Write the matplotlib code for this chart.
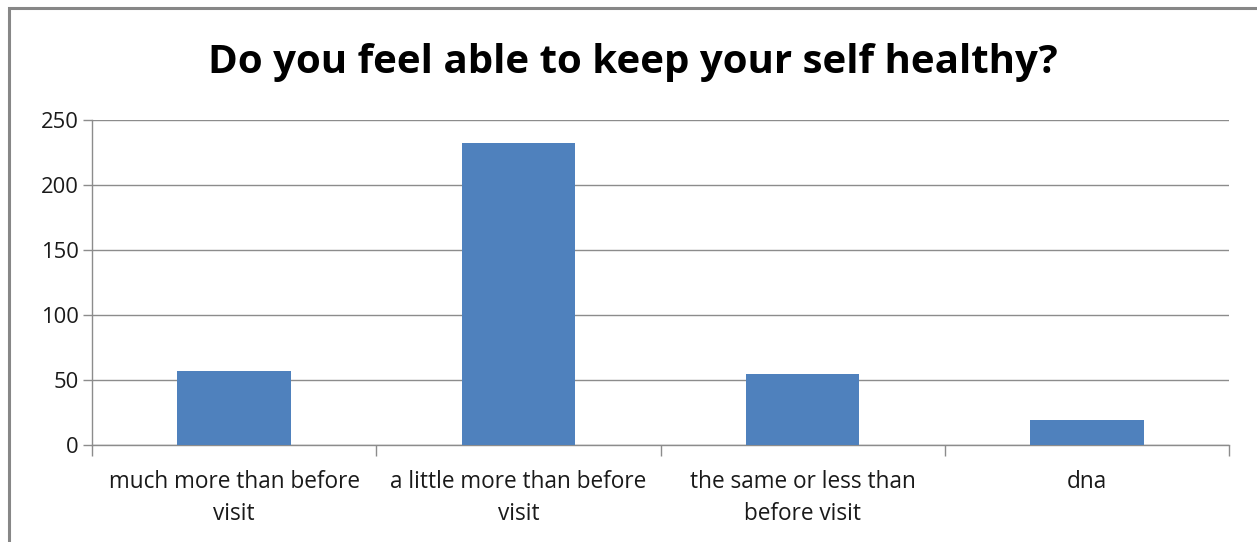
import matplotlib
matplotlib.use("Agg")
import matplotlib.pyplot as plt
from matplotlib.patches import Rectangle

# data
categories = ["much more than before\nvisit", "a little more than before\nvisit",
              "the same or less than\nbefore visit", "dna"]
counts = [57, 232, 55, 19]
y_ticks = [0, 50, 100, 150, 200, 250]

plt.rcParams['font.family'] = ['Open Sans', 'DejaVu Sans']

W, H = 1257, 542
fig = plt.figure(figsize=(W / 100, H / 100), dpi=100)

# outer chart frame (runs off the right and bottom edges)
fig.patches.append(Rectangle((9 / W, -0.1), 1.2, 1.1 - 8 / H,
                             transform=fig.transFigure, fill=False,
                             edgecolor='#878787', linewidth=2.2))

ax = fig.add_axes([92 / W, 1 - 445 / H, (1229 - 92) / W, (445 - 120) / H])

x = range(len(categories))
ax.bar(x, counts, width=0.4, color='#4f81bd', zorder=3)

ax.set_xlim(-0.5, len(categories) - 0.5)
ax.set_ylim(0, 250)
ax.set_yticks(y_ticks)
ax.yaxis.grid(True, color='#8c8c8c', linewidth=1.0, zorder=0)

ax.set_xticks(list(x))
ax.set_xticklabels(categories, fontsize=16.3, color='#1a1a1a', linespacing=1.45)
ax.tick_params(axis='x', length=0, pad=18)
ax.set_xticks([i + 0.5 for i in range(-1, len(categories))], minor=True)
ax.tick_params(axis='x', which='minor', length=8, color='#8c8c8c', width=1.0)
ax.tick_params(axis='y', labelsize=15.8, labelcolor='#1a1a1a', length=6.5,
               color='#8c8c8c', width=1.0, pad=3)

for s in ['top', 'right']:
    ax.spines[s].set_visible(False)
for s in ['left', 'bottom']:
    ax.spines[s].set_color('#8c8c8c')
    ax.spines[s].set_linewidth(1.0)

fig.text(633 / W, 1 - 63 / H, "Do you feel able to keep your self healthy?",
         ha='center', va='center', fontsize=29, fontweight='bold', color='black')

fig.savefig("out.png", dpi=100)
